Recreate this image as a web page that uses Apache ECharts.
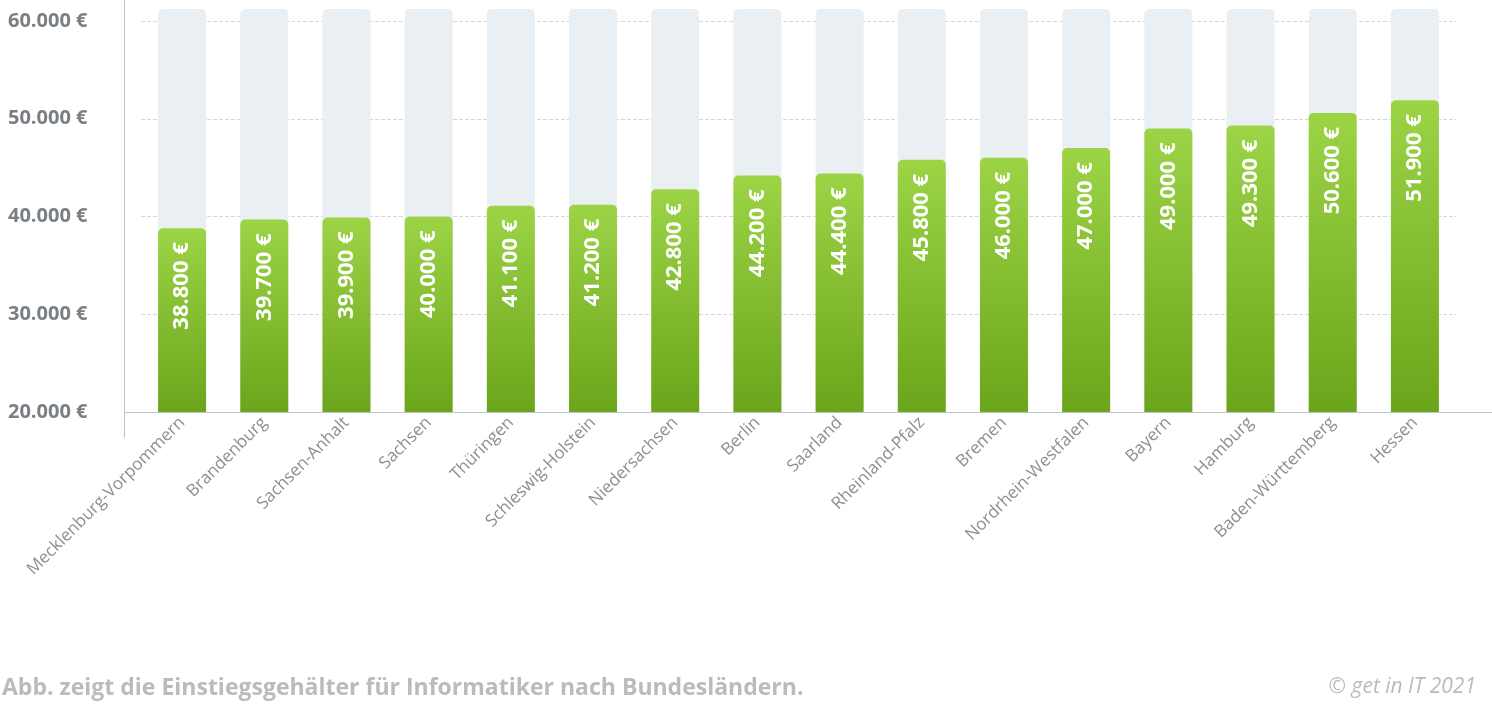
<!DOCTYPE html>
<html><head><meta charset="utf-8">
<script src="https://cdn.jsdelivr.net/npm/echarts@6/dist/echarts.min.js"></script>
<style>html,body{margin:0;padding:0;background:#fff}#c{width:1492px;height:706px}</style>
</head><body><div id="c"></div>
<script>
const categories=["Mecklenburg-Vorpommern","Brandenburg","Sachsen-Anhalt","Sachsen","Thüringen","Schleswig-Holstein","Niedersachsen","Berlin","Saarland","Rheinland-Pfalz","Bremen","Nordrhein-Westfalen","Bayern","Hamburg","Baden-Württemberg","Hessen"];
const salaries=[38800,39700,39900,40000,41100,41200,42800,44200,44400,45800,46000,47000,49000,49300,50600,51900];
const backgroundMax=61200;
const yTicks=[20000,30000,40000,50000,60000];
const fmt=v=>v.toLocaleString('de-DE')+' €';
const chart=echarts.init(document.getElementById('c'));
chart.setOption({
  animation:false,
  grid:[{left:141,right:36,top:9,bottom:294},{left:141,right:36,top:21,bottom:294}],
  xAxis:[{type:'category',data:categories,gridIndex:0,show:false},
    {type:'category',data:categories,gridIndex:1,axisTick:{show:false},
    axisLine:{lineStyle:{color:'#b8c4cc'}},
    axisLabel:{rotate:45,color:'#8a8f94',fontSize:17,fontFamily:'Open Sans',margin:8,interval:0,overflow:'none'}}],
  yAxis:[{type:'value',gridIndex:0,min:yTicks[0],max:backgroundMax,show:false,splitLine:{show:false}},
    {type:'value',gridIndex:1,min:yTicks[0],max:yTicks[yTicks.length-1],interval:10000,
    axisLabel:{formatter:fmt,color:'#7a7f84',fontSize:20,fontWeight:'bold',fontFamily:'Open Sans',align:'left',margin:133},
    splitLine:{lineStyle:{color:'#d5d9dc',type:'dashed'}}}],
  series:[
    {type:'bar',xAxisIndex:0,yAxisIndex:0,data:categories.map(()=>backgroundMax),barWidth:48,silent:true,z:1,
      itemStyle:{color:'#e9eff2',borderRadius:[5,5,0,0]}},
    {type:'bar',xAxisIndex:1,yAxisIndex:1,data:salaries,barWidth:48,z:2,
      itemStyle:{borderRadius:[5,5,0,0],color:new echarts.graphic.LinearGradient(0,0,0,1,[{offset:0,color:'#9cd446'},{offset:1,color:'#6ba51b'}])},
      label:{show:true,position:'insideTop',rotate:90,align:'right',verticalAlign:'middle',distance:14,
        formatter:p=>fmt(p.value),color:'#fff',fontSize:22,fontWeight:'bold',fontFamily:'Open Sans'}}
  ],
  graphic:[
    {type:'line',z:10,shape:{x1:124.5,y1:0,x2:124.5,y2:438},style:{stroke:'#b8c4cc',lineWidth:1}},
    {type:'line',z:10,shape:{x1:124,y1:412.5,x2:1492,y2:412.5},style:{stroke:'#b8c4cc',lineWidth:1}},
    {type:'text',left:2,top:677,style:{text:'Abb. zeigt die Einstiegsgehälter für Informatiker nach Bundesländern.',fill:'#b8bcbf',font:'bold 23px "Open Sans"'}},
    {type:'text',right:16,top:677,style:{text:'© get in IT 2021',fill:'#b8bcbf',font:'italic 21px "Open Sans"'}}
  ]
});
</script></body></html>
